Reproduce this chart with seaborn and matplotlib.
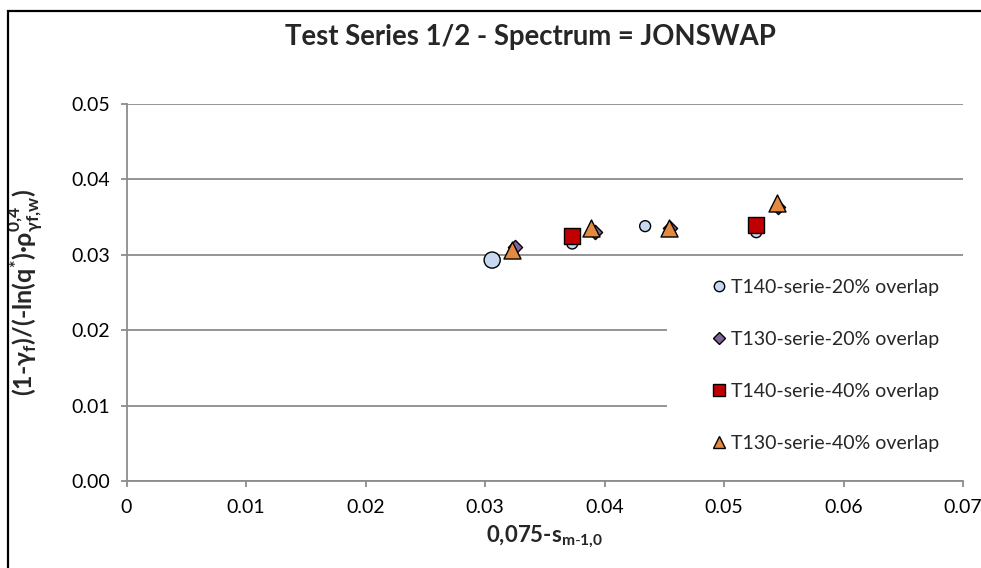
import matplotlib
matplotlib.use("Agg")
import matplotlib.pyplot as plt
import seaborn as sns
import pandas as pd
from matplotlib.patches import Rectangle

# ---- data ----
t140_20_x = [0.0306, 0.0373, 0.0434, 0.0527]
t140_20_y = [0.0293, 0.0315, 0.0338, 0.0330]
t130_20_x = [0.0325, 0.0392, 0.0455, 0.0545]
t130_20_y = [0.0310, 0.0330, 0.0335, 0.0363]
t140_40_x = [0.0373, 0.0527]
t140_40_y = [0.0325, 0.0339]
t130_40_x = [0.0323, 0.0389, 0.0454, 0.0544]
t130_40_y = [0.0306, 0.0336, 0.0336, 0.0369]
labels = ["T140-serie-20% overlap", "T130-serie-20% overlap",
          "T140-serie-40% overlap", "T130-serie-40% overlap"]
x_ticks = [0, 0.01, 0.02, 0.03, 0.04, 0.05, 0.06, 0.07]
x_ticklabels = ["0", "0.01", "0.02", "0.03", "0.04", "0.05", "0.06", "0.07"]
y_ticks = [0.00, 0.01, 0.02, 0.03, 0.04, 0.05]
y_ticklabels = ["0.00", "0.01", "0.02", "0.03", "0.04", "0.05"]
title = "Test Series 1/2 - Spectrum = JONSWAP"

sns.set_theme(style="white")
FONT = ["Lato", "DejaVu Sans"]
plt.rcParams["font.family"] = FONT
plt.rcParams["mathtext.fontset"] = "custom"
plt.rcParams["mathtext.rm"] = "Lato"
plt.rcParams["mathtext.it"] = "Lato:italic"
plt.rcParams["mathtext.bf"] = "Lato:bold"

W, H = 981, 568
fig = plt.figure(figsize=(W / 100, H / 100), dpi=100)
fig.patch.set_facecolor("white")
ax = fig.add_axes([126.5 / W, 1 - 481 / H, (963 - 126.5) / W, (481 - 104) / H])

series = [
    (t140_20_x, t140_20_y, "o", "#C6D9F1", [135, 62, 62, 62]),
    (t130_20_x, t130_20_y, "D", "#7F659F", 52),
    (t140_40_x, t140_40_y, "s", "#C00000", 118),
    (t130_40_x, t130_40_y, "^", "#E38A40", 150),
]
handles = []
for (xs, ys, m, c, s), lab in zip(series, labels):
    df = pd.DataFrame({"x": xs, "y": ys})
    sns.scatterplot(data=df, x="x", y="y", ax=ax, marker=m, color=c, s=s,
                    edgecolor="black", linewidth=1.0, zorder=3, legend=False)
    handles.append(plt.Line2D([], [], linestyle="none", marker=m, markerfacecolor=c,
                              markeredgecolor="black", markeredgewidth=1.0,
                              markersize={"o": 7.5, "D": 6.5, "s": 8.5, "^": 9}[m],
                              label=lab))

ax.set_xlim(0, 0.07)
ax.set_ylim(0, 0.05)
ax.set_xticks(x_ticks)
ax.set_xticklabels(x_ticklabels)
ax.set_yticks(y_ticks)
ax.set_yticklabels(y_ticklabels)
ax.grid(axis="y", color="#8C8C8C", linewidth=1.3)
ax.grid(axis="x", visible=False)
ax.set_axisbelow(True)
for sp in ["top", "right"]:
    ax.spines[sp].set_visible(False)
for sp in ["left", "bottom"]:
    ax.spines[sp].set_color("#8C8C8C")
    ax.spines[sp].set_linewidth(1.3)
ax.tick_params(axis="both", which="major", direction="out", length=4.2, width=1.3,
               color="#8C8C8C", labelsize=14, labelcolor="black",
               bottom=True, left=True)
ax.tick_params(axis="x", pad=9)
ax.tick_params(axis="y", pad=7.5)

# white area behind the legend (covers the gridlines there)
ax.add_patch(Rectangle((0.646, 0.02), 0.36, 0.56, transform=ax.transAxes,
                       facecolor="white", edgecolor="none", zorder=1, clip_on=False))

ax.set_xlabel(r"0,075-s$_{\mathbf{m\text{-}1{,}0}}$", fontsize=16, fontweight="bold",
              labelpad=5)
ax.set_ylabel(r"(1-γ$_{\mathbf{f}}$)/(-ln(q$^{\mathbf{*}}$)·ρ$_{\mathbf{γf{,}w}}^{\mathbf{0{,}4}}$)",
              fontsize=18, fontweight="bold")
ax.yaxis.set_label_coords(-0.097, 0.5)

fig.text(530 / W, 1 - 45 / H, title, ha="center", va="baseline", fontsize=19.8,
         fontweight="bold")

leg = ax.legend(handles=handles, loc="upper left", bbox_to_anchor=(0.6987, 0.537),
                frameon=False, fontsize=14, labelspacing=1.8, handlelength=0.8,
                handletextpad=0.25, borderpad=0, borderaxespad=0)
leg.set_zorder(5)

fig.add_artist(Rectangle((8 / W, -0.05), 1.1, 1 - 11 / H + 0.05,
                         transform=fig.transFigure, fill=False, edgecolor="black",
                         linewidth=1.6, clip_on=False))

fig.savefig("out.png", dpi=100, facecolor="white")
